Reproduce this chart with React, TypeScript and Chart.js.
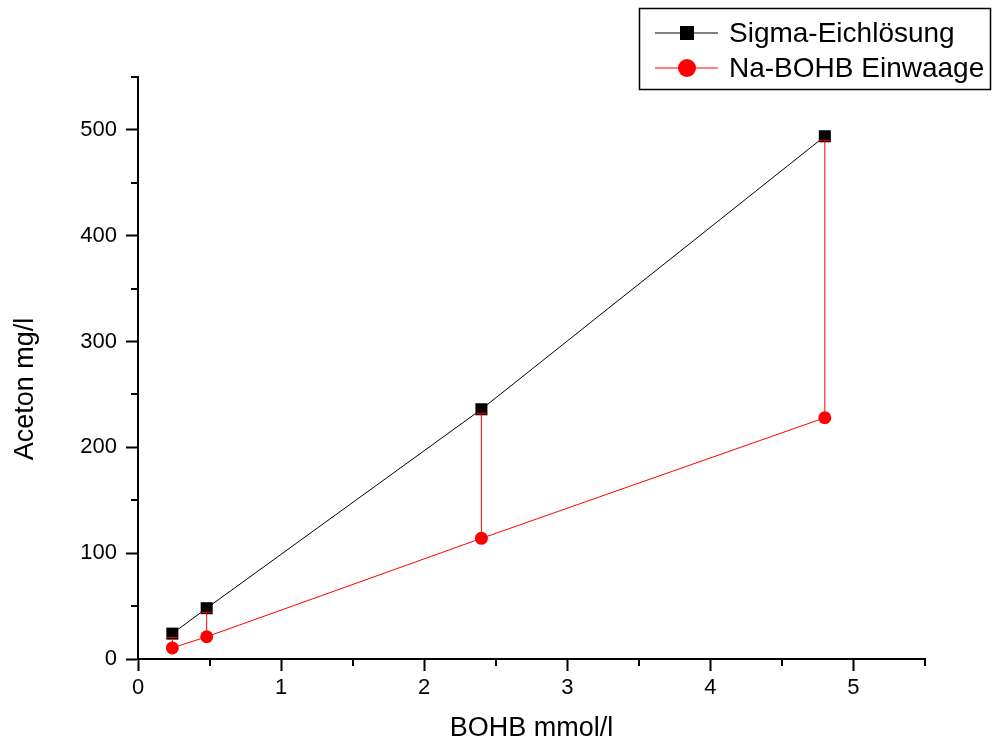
import { useEffect, useRef } from 'react';
import { Chart, registerables } from 'chart.js';

Chart.register(...registerables);

// Measured concentrations
const bohb = [0.24, 0.48, 2.4, 4.8];
const sigma = [24, 48, 236, 494];
const naBohb = [10.5, 21, 114, 228];

// Axis ticks
const xMajor = [0, 1, 2, 3, 4, 5];
const xMinor = [0.5, 1.5, 2.5, 3.5, 4.5, 5.5];
const yMajor = [0, 100, 200, 300, 400, 500];
const yMinor = [50, 150, 250, 350, 450, 550];

const seriesNames = ['Sigma-Eichlösung', 'Na-BOHB Einwaage'];
const xTitle = 'BOHB mmol/l';
const yTitle = 'Aceton mg/l';

const FONT = "'Liberation Sans', Arial, Helvetica, sans-serif";

// Short minor tick marks on both axes, plus the rotated y-axis title
const minorTicks = {
  id: 'minorTicks',
  afterDraw(chart: any) {
    const { ctx, chartArea, scales } = chart;
    ctx.save();
    ctx.strokeStyle = '#000';
    ctx.lineWidth = 2;
    ctx.beginPath();
    xMinor.forEach((v) => {
      const px = Math.round(scales.x.getPixelForValue(v));
      ctx.moveTo(px, chartArea.bottom);
      ctx.lineTo(px, chartArea.bottom + 7);
    });
    yMinor.forEach((v) => {
      const py = Math.round(scales.y.getPixelForValue(v));
      ctx.moveTo(chartArea.left, py);
      ctx.lineTo(chartArea.left - 7, py);
    });
    ctx.stroke();

    ctx.fillStyle = '#000';
    ctx.font = `27px ${FONT}`;
    ctx.textAlign = 'center';
    ctx.textBaseline = 'alphabetic';
    ctx.translate(33, 389);
    ctx.rotate(-Math.PI / 2);
    ctx.fillText(yTitle, 0, 0);
    ctx.restore();
  },
};

// Red vertical connectors between the two series at each concentration
const connectors = {
  id: 'connectors',
  afterDatasetsDraw(chart: any) {
    const { ctx, scales } = chart;
    ctx.save();
    ctx.strokeStyle = '#ff0000';
    ctx.lineWidth = 1;
    bohb.forEach((x, i) => {
      const px = scales.x.getPixelForValue(x);
      const yLow = scales.y.getPixelForValue(naBohb[i]);
      const yHigh = scales.y.getPixelForValue(sigma[i]) + 4;
      ctx.beginPath();
      ctx.moveTo(px, yLow);
      ctx.lineTo(px, yHigh);
      ctx.moveTo(px - 6, yHigh);
      ctx.lineTo(px + 6, yHigh);
      ctx.stroke();
    });
    ctx.restore();
  },
};

// Boxed legend in the upper right corner
const boxLegend = {
  id: 'boxLegend',
  afterDraw(chart: any) {
    const { ctx } = chart;
    const ds = chart.data.datasets;
    ctx.save();
    ctx.strokeStyle = '#000';
    ctx.lineWidth = 1.5;
    ctx.strokeRect(639.5, 8.5, 351, 81);

    const rows = [33, 68];
    ds.forEach((d: any, i: number) => {
      const y = rows[i];
      ctx.strokeStyle = d.borderColor;
      ctx.lineWidth = 1;
      ctx.beginPath();
      ctx.moveTo(655, y);
      ctx.lineTo(718, y);
      ctx.stroke();
      ctx.fillStyle = d.pointBackgroundColor;
      if (i === 0) {
        ctx.fillRect(680, y - 7, 14, 14);
      } else {
        ctx.beginPath();
        ctx.arc(687, y, 9, 0, Math.PI * 2);
        ctx.fill();
      }
      ctx.fillStyle = '#000';
      ctx.font = `28px ${FONT}`;
      ctx.textAlign = 'left';
      ctx.textBaseline = 'middle';
      ctx.fillText(d.label, 729, y + 1);
    });
    ctx.restore();
  },
};

export default function App() {
  const canvasRef = useRef<HTMLCanvasElement | null>(null);

  useEffect(() => {
    if (!canvasRef.current) return;
    Chart.defaults.font.family = FONT;
    const chart = new Chart(canvasRef.current, {
      type: 'line',
      data: {
        datasets: [
          {
            label: seriesNames[0],
            data: bohb.map((x, i) => ({ x, y: sigma[i] })),
            borderColor: '#000000',
            borderWidth: 1,
            pointStyle: 'rect',
            pointRadius: 8.5,
            pointBackgroundColor: '#000000',
            pointBorderColor: '#000000',
            pointBorderWidth: 0,
            tension: 0,
            clip: false,
          },
          {
            label: seriesNames[1],
            data: bohb.map((x, i) => ({ x, y: naBohb[i] })),
            borderColor: '#ff0000',
            borderWidth: 1,
            pointStyle: 'circle',
            pointRadius: 6.5,
            pointBackgroundColor: '#ff0000',
            pointBorderColor: '#ff0000',
            pointBorderWidth: 0,
            tension: 0,
            clip: false,
          },
        ],
      },
      options: {
        animation: false,
        responsive: false,
        devicePixelRatio: 1,
        layout: { padding: { left: 0, top: 77, right: 67, bottom: 0 } },
        plugins: {
          legend: { display: false },
          tooltip: { enabled: false },
        },
        scales: {
          x: {
            type: 'linear',
            min: 0,
            max: 5.5,
            afterBuildTicks: (s: any) => {
              s.ticks = xMajor.map((v) => ({ value: v }));
            },
            afterFit: (s: any) => {
              s.height = 86;
            },
            grid: {
              display: true,
              drawOnChartArea: false,
              drawTicks: true,
              tickLength: 12,
              tickWidth: 2,
              tickColor: '#000',
            },
            border: { display: true, color: '#000', width: 2 },
            ticks: {
              color: '#000',
              font: { size: 22 },
              padding: 4,
              maxRotation: 0,
              callback: (v: any) => String(v),
            },
            title: {
              display: true,
              text: xTitle,
              color: '#000',
              font: { size: 27 },
              padding: { top: 0, bottom: 0 },
            },
          },
          y: {
            type: 'linear',
            min: 0,
            max: 550,
            afterBuildTicks: (s: any) => {
              s.ticks = yMajor.map((v) => ({ value: v }));
            },
            afterFit: (s: any) => {
              s.width = 138;
            },
            grid: {
              display: true,
              drawOnChartArea: false,
              drawTicks: true,
              tickLength: 12,
              tickWidth: 2,
              tickColor: '#000',
            },
            border: { display: true, color: '#000', width: 2 },
            ticks: {
              color: '#000',
              font: { size: 22 },
              padding: 9,
              callback: (v: any) => String(v),
            },
          },
        },
      },
      plugins: [connectors, minorTicks, boxLegend],
    });
    return () => chart.destroy();
  }, []);

  return (
    <div style={{ position: 'fixed', left: 0, top: 0, width: 992, height: 745, background: '#fff' }}>
      <canvas ref={canvasRef} width={992} height={745} style={{ display: 'block' }} />
    </div>
  );
}
